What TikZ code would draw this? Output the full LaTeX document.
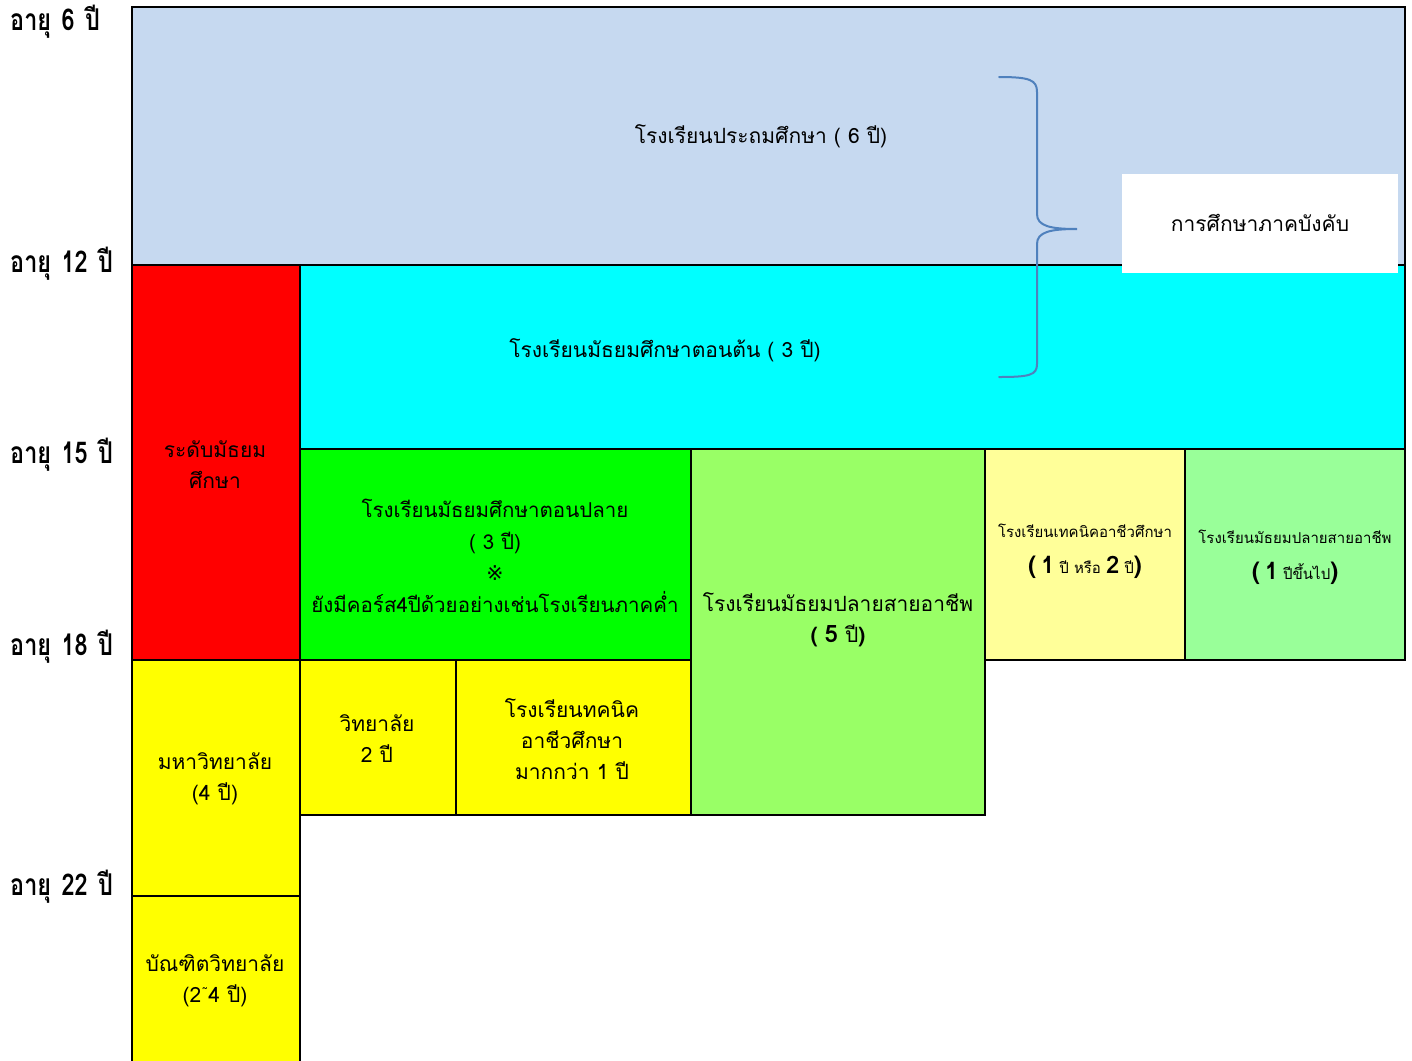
\documentclass[tikz,border=0pt]{standalone}
\usepackage{fontspec}
\setmainfont[Script=Thai]{Loma}
\newfontfamily\symfont{DejaVu Sans}
\definecolor{cPrim}{HTML}{C6D9F0}
\definecolor{cRed}{HTML}{FF0000}
\definecolor{cCyan}{HTML}{00FFFF}
\definecolor{cGreen}{HTML}{00FF00}
\definecolor{cLime}{HTML}{99FF66}
\definecolor{cPale}{HTML}{FFFF99}
\definecolor{cMint}{HTML}{99FF99}
\definecolor{cYel}{HTML}{FFFF00}
\definecolor{cBrace}{HTML}{4F81BD}
\newcommand{\bignum}[1]{{\fontsize{24}{30}\selectfont\bfseries #1}}
\newcommand{\agelabel}[1]{\scalebox{0.78}[1]{#1}}
\newcommand{\agap}{\hspace{0.45em}}
\begin{document}
\begin{tikzpicture}[x=1pt,y=-1pt,
  box/.style={draw=black,line width=2pt},
  txt/.style={align=center,font=\fontsize{21}{31}\selectfont,inner sep=0pt},
  small/.style={align=center,font=\fontsize{15}{36}\selectfont,inner sep=0pt},
  age/.style={anchor=west,font=\fontsize{30}{34}\selectfont\bfseries,inner sep=0pt}]
\useasboundingbox (0,0) rectangle (1412,1060);
% boxes
\path[box,fill=cPrim] (132,7) rectangle (1405,265);
\path[box,fill=cRed] (132,265) rectangle (300,660);
\path[box,fill=cCyan] (300,265) rectangle (1405,449);
\path[box,fill=cGreen] (300,449) rectangle (691,660);
\path[box,fill=cLime] (691,449) rectangle (985,815);
\path[box,fill=cPale] (985,449) rectangle (1185,660);
\path[box,fill=cMint] (1185,449) rectangle (1405,660);
\path[box,fill=cYel] (132,660) rectangle (300,896);
\path[box,fill=cYel] (300,660) rectangle (456,815);
\path[box,fill=cYel] (456,660) rectangle (691,815);
\path[box,fill=cYel] (132,896) rectangle (300,1062);
% brace
\coordinate (bt) at (999,77);
\coordinate (bb) at (999,377);
\coordinate (bm) at (1077,229);
\draw[cBrace,line width=2pt,line cap=round]
  (bt) .. controls (1030,77) and (1037,80) .. (1037,92) -- (1037,214)
  .. controls (1037,226) and (1050,229) .. (bm)
  .. controls (1050,229) and (1037,232) .. (1037,244) -- (1037,364)
  .. controls (1037,375) and (1030,377) .. (bb);
% white box
\node[fill=white,minimum width=276pt,minimum height=99pt,inner sep=0pt] (comp) at (1260,223.5) {};
\node[txt] (compt) at (1260,223) {การศึกษาภาคบังคับ};
% texts
\node[txt] (prim) at (761,136) {โรงเรียนประถมศึกษา ( 6 ปี)};
\node[txt] (lsec) at (665,350) {โรงเรียนมัธยมศึกษาตอนต้น ( 3 ปี)};
\node[txt] (sec) at (215,465) {ระดับมัธยม\\ศึกษา};
\node[txt,font=\fontsize{20.5}{31.5}\selectfont] (usec) at (495,556) {โรงเรียนมัธยมศึกษาตอนปลาย\\( 3 ปี)\\{\symfont ※}\\ยังมีคอร์ส4ปีด้วยอย่างเช่นโรงเรียนภาคค่ำ};
\node[txt] (voc5) at (838,620) {โรงเรียนมัธยมปลายสายอาชีพ\\\textbf{(} \bignum{5} ปี\textbf{)}};
\node[small] (tech12) at (1085,551) {โรงเรียนเทคนิคอาชีวศึกษา\\\bignum{(} \bignum{1} ปี หรือ \bignum{2} ปี\bignum{)}};
\node[small] (voc1) at (1295,557) {โรงเรียนมัธยมปลายสายอาชีพ\\\bignum{(} \bignum{1} ปีขึ้นไป\bignum{)}};
\node[txt] (univ) at (215,779) {มหาวิทยาลัย\\(4 ปี)};
\node[txt] (coll) at (377,739) {วิทยาลัย\\2 ปี};
\node[txt] (techc) at (572,739) {โรงเรียนทคนิค\\อาชีวศึกษา\\มากกว่า 1 ปี};
\node[txt] (grad) at (215,981) {บัณฑิตวิทยาลัย\\(2{\symfont\raisebox{0.35ex}{\fontsize{14}{14}\selectfont\char"02DC}}4 ปี)};
% ages
\node[age] (a6) at (10,22) {\agelabel{อายุ\agap 6\agap ปี}};
\node[age] (a12) at (10,264) {\agelabel{อายุ\agap 12\agap ปี}};
\node[age] (a15) at (10,455) {\agelabel{อายุ\agap 15\agap ปี}};
\node[age] (a18) at (10,647) {\agelabel{อายุ\agap 18\agap ปี}};
\node[age] (a22) at (10,887) {\agelabel{อายุ\agap 22\agap ปี}};
\end{tikzpicture}
\end{document}
